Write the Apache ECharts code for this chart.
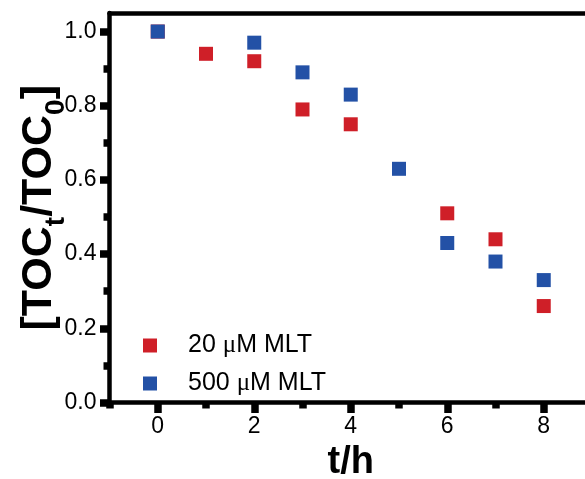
<!DOCTYPE html>
<html><head><meta charset="utf-8">
<script src="https://cdn.jsdelivr.net/npm/echarts@6/dist/echarts.min.js"></script>
<style>html,body{margin:0;padding:0;background:#fff}#c{width:585px;height:479px}</style>
</head><body><div id="c"></div>
<script>
// ---- data ----
const hours20 = [0, 1, 2, 3, 4, 6, 7, 8];
const toc20 = [1.0, 0.94, 0.92, 0.79, 0.75, 0.51, 0.44, 0.26];
const hours500 = [0, 2, 3, 4, 5, 6, 7, 8];
const toc500 = [1.0, 0.97, 0.89, 0.83, 0.63, 0.43, 0.38, 0.33];
const seriesNames = ['20 μM MLT', '500 μM MLT'];
const xMajorTicks = [0, 2, 4, 6, 8];
const xMinorTicks = [-1, 1, 3, 5, 7, 9];
const yMajorTicks = [0, 0.2, 0.4, 0.6, 0.8, 1.0];
const yMinorTicks = [0.1, 0.3, 0.5, 0.7, 0.9];

const FONT = 'Liberation Sans, Arial, sans-serif';
const AX = '#000';
const LW = 4.5;
const TW = 7.5;
const RED = '#cf1f28';
const BLUE = '#2351a6';

const chart = echarts.init(document.getElementById('c'), null, {renderer: 'canvas'});

function pairs(xs, ys) { return xs.map((x, i) => [x, ys[i]]); }

const tickStyle = {color: AX, width: TW, type: 'solid', opacity: 1};

const option = {
  backgroundColor: '#fff',
  animation: false,
  grid: {left: 109.5, right: -7, top: 13, bottom: 76.5, containLabel: false, outerBoundsMode: 'none'},
  legend: {
    orient: 'vertical', left: 143, top: 333, padding: 0,
    itemWidth: 14, itemHeight: 14, itemGap: 13, icon: 'rect',
    data: seriesNames,
    formatter: function (name) {
      const parts = name.split('μ');
      return '{g|}{n|' + parts[0] + '}{mu|μ}{n|' + parts[1] + '}';
    },
    textStyle: {
      color: '#000', fontFamily: FONT, fontSize: 25, lineHeight: 24,
      rich: {
        g: {width: 26},
        n: {fontFamily: FONT, fontSize: 25, color: '#000', lineHeight: 24},
        mu: {fontFamily: 'Liberation Serif, Times New Roman, serif', fontSize: 25, color: '#000', lineHeight: 24}
      }
    }
  },
  xAxis: [
    {
      type: 'value', min: -1, max: 9, position: 'bottom',
      axisLine: {show: true, onZero: false, lineStyle: {color: AX, width: LW}},
      axisTick: {show: true, customValues: xMajorTicks, length: 10.5, lineStyle: tickStyle},
      axisLabel: {show: true, customValues: xMajorTicks, margin: 13, fontSize: 23, color: '#000', fontFamily: FONT},
      splitLine: {show: false},
      name: 't/h', nameLocation: 'middle', nameGap: 40,
      nameTextStyle: {fontSize: 38, fontWeight: 'bold', color: '#000', fontFamily: FONT}
    },
    {
      type: 'value', min: -1, max: 9, position: 'bottom', offset: 0,
      axisLine: {show: false, onZero: false, lineStyle: {color: AX, width: LW}},
      axisTick: {show: true, customValues: xMinorTicks, length: 6, lineStyle: tickStyle},
      axisLabel: {show: false},
      splitLine: {show: false}
    },
    {
      type: 'value', min: -1, max: 9, position: 'top',
      axisLine: {show: true, onZero: false, lineStyle: {color: AX, width: LW}},
      axisTick: {show: false}, axisLabel: {show: false}, splitLine: {show: false}
    }
  ],
  yAxis: [
    {
      type: 'value', min: 0, max: 1.05, position: 'left',
      axisLine: {show: true, onZero: false, lineStyle: {color: AX, width: LW}},
      axisTick: {show: true, customValues: yMajorTicks, length: 9.5, lineStyle: tickStyle},
      axisLabel: {show: true, customValues: yMajorTicks, margin: 13, fontSize: 23, color: '#000', fontFamily: FONT,
        formatter: v => v.toFixed(1)},
      splitLine: {show: false},
      name: '{m|[TOC}{s|t}{m|/TOC}{s|0}{m|]}', nameLocation: 'middle', nameGap: 46, nameRotate: 90,
      nameMoveOverlap: false,
      nameTextStyle: {
        color: '#000', fontFamily: FONT, fontWeight: 'bold', fontSize: 43,
        rich: {
          m: {fontSize: 43, fontWeight: 'bold', fontFamily: FONT, color: '#000', verticalAlign: 'top', lineHeight: 46},
          s: {fontSize: 28, fontWeight: 'bold', fontFamily: FONT, color: '#000', verticalAlign: 'top', lineHeight: 30, padding: [25, 0, 0, 0]}
        }
      }
    },
    {
      type: 'value', min: 0, max: 1.05, position: 'left', offset: 0,
      axisLine: {show: false, onZero: false, lineStyle: {color: AX, width: LW}},
      axisTick: {show: true, customValues: yMinorTicks, length: 6, lineStyle: tickStyle},
      axisLabel: {show: false}, splitLine: {show: false}
    }
  ],
  series: [
    {name: seriesNames[0], type: 'scatter', symbol: 'rect', symbolSize: 14, xAxisIndex: 0, yAxisIndex: 0, z: 2,
      itemStyle: {color: RED, opacity: 1}, data: pairs(hours20, toc20)},
    {name: seriesNames[1], type: 'scatter', symbol: 'rect', symbolSize: 14, xAxisIndex: 0, yAxisIndex: 0, z: 3,
      itemStyle: {color: BLUE, opacity: 1}, data: pairs(hours500, toc500)}
  ]
};
chart.setOption(option);
</script>
</body></html>
